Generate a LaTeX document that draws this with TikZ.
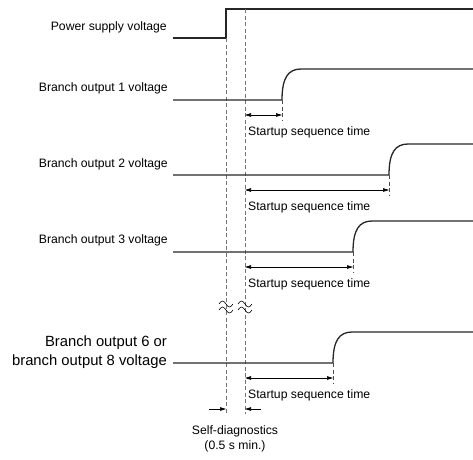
\documentclass[tikz,border=0pt]{standalone}
\usepackage{fontspec}
\setmainfont{Liberation Sans}
\usetikzlibrary{arrows.meta}

\begin{document}
\begin{tikzpicture}[x=1pt,y=-1pt,
  wave/.style={line width=1.3pt,draw=black!85},
  guide/.style={line width=0.75pt,draw=black!55,dash pattern=on 4pt off 2.5pt},
  risetick/.style={line width=0.7pt,draw=black!70,dash pattern=on 4pt off 2.5pt},
  span/.style={line width=0.7pt,{Triangle[length=6pt,width=3.5pt]}-{Triangle[length=6pt,width=3.5pt]}},
  halfspan/.style={line width=0.7pt,-{Triangle[length=6pt,width=3.5pt]}},
  lbl/.style={anchor=base east,inner sep=0pt,font=\fontsize{12.2}{14}\selectfont},
  note/.style={anchor=base west,inner sep=0pt,font=\fontsize{12.2}{14}\selectfont}]
\useasboundingbox (0,0) rectangle (473,459);

% one branch output: #1 name, #2 low level, #3 x of the rise
\newcommand{\branchwave}[3]{
  \coordinate (#1lo) at (173,#2);
  \coordinate (#1up) at (#3,#2);
  \coordinate (#1top) at (#3+19,#2-31);
  \coordinate (#1end) at (473,#2-31);
  \coordinate (#1tick) at (#3,#2+21);
  \coordinate (#1a) at (245,#2+15);
  \coordinate (#1b) at (#3,#2+15);
  \draw[wave] (#1lo) -- (#1up) .. controls (#3,#2-22) and (#3+6,#2-31) .. (#1top) -- (#1end);
  \draw[risetick] (#1up) -- (#1tick);
  \draw[span] (#1a) -- (#1b);
  \node[note] (#1time) at (248,#2+35) {Startup sequence time};
}
% break mark on a guide line
\newcommand{\breakmark}[2]{
  \draw[line width=0.6pt] (#1-7,#2) sin (#1-3.5,#2-3) cos (#1,#2) sin (#1+3.5,#2+3) cos (#1+7,#2);
}

% power supply
\coordinate (pslo) at (173,38);
\coordinate (psup) at (226,38);
\coordinate (pstop) at (226,9);
\coordinate (psend) at (473,9);
\draw[wave] (pslo) -- (psup) -- (pstop) -- (psend);
\node[lbl] (pslabel) at (167,30) {Power supply voltage};

% guide lines
\coordinate (g1a) at (226,38);
\coordinate (g1b) at (226,414);
\coordinate (g2a) at (245,9);
\coordinate (g2b) at (245,414);
\draw[guide] (g1a) -- (g1b);
\draw[guide] (g2a) -- (g2b);

\branchwave{b1}{100}{282}
\branchwave{b2}{175}{389}
\branchwave{b3}{252}{353}
\branchwave{b6}{363}{333}

\node[lbl] (b1label) at (168,91) {Branch output 1 voltage};
\node[lbl] (b2label) at (168,167) {Branch output 2 voltage};
\node[lbl] (b3label) at (168,243) {Branch output 3 voltage};
\node[anchor=east,inner sep=0pt,align=right,font=\fontsize{14.8}{19}\selectfont] (b6label) at (167,352.5)
  {Branch output 6 or\\branch output 8 voltage};

\breakmark{226}{304}
\breakmark{226}{310}
\breakmark{245}{304}
\breakmark{245}{310}

% self-diagnostics
\coordinate (sdl) at (209,409);
\coordinate (sdr) at (261,409);
\draw[halfspan] (sdl) -- (226,409);
\draw[halfspan] (sdr) -- (245,409);
\node[anchor=north,inner sep=0pt,align=center,font=\fontsize{12.2}{15}\selectfont] (sdtext) at (235,425.5)
  {Self-diagnostics\\(0.5 s min.)};
\end{tikzpicture}
\end{document}
